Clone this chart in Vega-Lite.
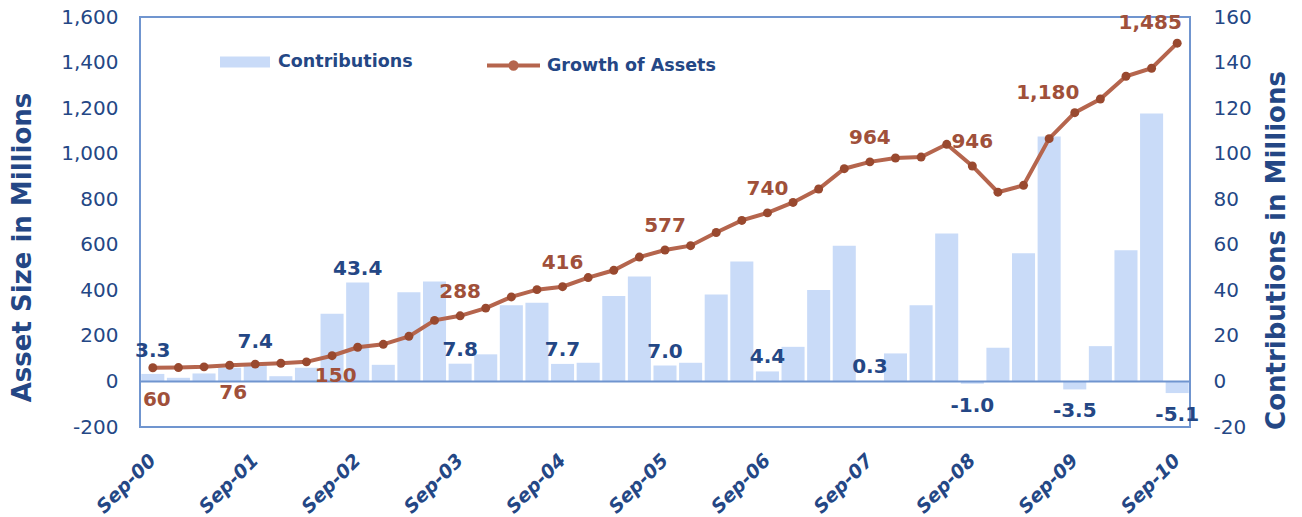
{
  "$schema": "https://vega.github.io/schema/vega-lite/v6.json",
  "width": 1050,
  "height": 410,
  "autosize": {"type": "none"},
  "padding": {"left": 140, "top": 17, "right": 112, "bottom": 90},
  "background": "white",
  "config": {
    "view": {"stroke": "#7095CF", "strokeWidth": 2},
    "font": "DejaVu Sans",
    "locale": {"number": {"decimal": ".", "thousands": ",", "grouping": [3], "currency": ["$", ""], "minus": "-"}}
  },
  "data": {"values": [
    {"t": "Sep-00", "c": 3.3, "a": 60},
    {"t": "Dec-00", "c": 1.6, "a": 61},
    {"t": "Mar-01", "c": 3.5, "a": 64},
    {"t": "Jun-01", "c": 6.0, "a": 71},
    {"t": "Sep-01", "c": 7.4, "a": 76},
    {"t": "Dec-01", "c": 2.3, "a": 80},
    {"t": "Mar-02", "c": 6.0, "a": 86},
    {"t": "Jun-02", "c": 29.7, "a": 113},
    {"t": "Sep-02", "c": 43.4, "a": 150},
    {"t": "Dec-02", "c": 7.3, "a": 163},
    {"t": "Mar-03", "c": 39.2, "a": 198},
    {"t": "Jun-03", "c": 43.9, "a": 268},
    {"t": "Sep-03", "c": 7.8, "a": 288},
    {"t": "Dec-03", "c": 11.9, "a": 322},
    {"t": "Mar-04", "c": 33.5, "a": 371},
    {"t": "Jun-04", "c": 34.6, "a": 403},
    {"t": "Sep-04", "c": 7.7, "a": 416},
    {"t": "Dec-04", "c": 8.2, "a": 456},
    {"t": "Mar-05", "c": 37.5, "a": 488},
    {"t": "Jun-05", "c": 46.1, "a": 546},
    {"t": "Sep-05", "c": 7.0, "a": 577},
    {"t": "Dec-05", "c": 8.2, "a": 596},
    {"t": "Mar-06", "c": 38.2, "a": 654},
    {"t": "Jun-06", "c": 52.7, "a": 707},
    {"t": "Sep-06", "c": 4.4, "a": 740},
    {"t": "Dec-06", "c": 15.2, "a": 786},
    {"t": "Mar-07", "c": 40.1, "a": 845},
    {"t": "Jun-07", "c": 59.6, "a": 934},
    {"t": "Sep-07", "c": 0.3, "a": 964},
    {"t": "Dec-07", "c": 12.3, "a": 981},
    {"t": "Mar-08", "c": 33.5, "a": 985},
    {"t": "Jun-08", "c": 65.0, "a": 1041},
    {"t": "Sep-08", "c": -1.0, "a": 946},
    {"t": "Dec-08", "c": 14.8, "a": 831},
    {"t": "Mar-09", "c": 56.3, "a": 861},
    {"t": "Jun-09", "c": 107.5, "a": 1066},
    {"t": "Sep-09", "c": -3.5, "a": 1180},
    {"t": "Dec-09", "c": 15.5, "a": 1240},
    {"t": "Mar-10", "c": 57.6, "a": 1340},
    {"t": "Jun-10", "c": 117.6, "a": 1375},
    {"t": "Sep-10", "c": -5.1, "a": 1485}
  ]},
  "layer": [
    {
      "layer": [
        {
          "mark": {"type": "bar"},
          "encoding": {
            "x": {"field": "t", "type": "ordinal", "sort": null, "scale": {"paddingInner": 0.1, "paddingOuter": 0.05},
              "axis": {"values": ["Sep-00","Sep-01","Sep-02","Sep-03","Sep-04","Sep-05","Sep-06","Sep-07","Sep-08","Sep-09","Sep-10"], "title": null, "labelAngle": -45, "labelAlign": "right", "labelBaseline": "middle", "labelFontSize": 19, "labelFontWeight": "bold", "labelFontStyle": "italic", "labelColor": "#244785", "labelPadding": 30, "domain": false, "ticks": false, "labelFont": "DejaVu Sans"}},
            "y": {"field": "c", "type": "quantitative", "scale": {"domain": [-20, 160], "nice": false, "zero": false},
              "axis": {"orient": "right", "values": [-20,0,20,40,60,80,100,120,140,160], "format": "d", "title": "Contributions in Millions", "titleAngle": 270, "titleFontSize": 26, "titleFontWeight": "bold", "titleColor": "#244785", "titlePadding": 38, "titleY": 233, "labelFontSize": 20, "labelColor": "#244785", "labelPadding": 23, "domain": false, "ticks": false, "grid": false, "labelFont": "DejaVu Sans", "titleFont": "DejaVu Sans"}},
            "fill": {"datum": "Contributions", "type": "nominal", "scale": {"range": ["#C9DBF8"]},
              "legend": {"orient": "none", "legendX": 80, "legendY": 20, "title": null, "symbolType": "M-1,-0.22H1V0.22H-1Z", "symbolSize": 2500, "symbolStrokeWidth": 0, "labelFontSize": 17.5, "labelFontWeight": "bold", "labelColor": "#244785", "labelFont": "DejaVu Sans", "labelOffset": 8, "labelLimit": 0}}
          }
        },
        {
          "data": {"values": [{}]},
          "mark": {"type": "rule", "color": "#7095CF", "strokeWidth": 2},
          "encoding": {"y": {"datum": 0, "type": "quantitative"}}
        },
        {
          "transform": [{"filter": "indexof(['Sep-00','Sep-01'], datum.t) >= 0"}],
          "mark": {"type": "text", "fontSize": 20, "fontWeight": "bold", "color": "#244785", "baseline": "alphabetic", "dy": -17, "font": "DejaVu Sans"},
          "encoding": {
            "x": {"field": "t", "type": "ordinal", "sort": null},
            "y": {"field": "c", "type": "quantitative"},
            "text": {"field": "c", "type": "quantitative", "format": ".1f"}
          }
        },
        {
          "transform": [{"filter": "indexof(datum.t,'Sep')===0 && datum.c>=0 && datum.t!=='Sep-00' && datum.t!=='Sep-01'"}],
          "mark": {"type": "text", "fontSize": 20, "fontWeight": "bold", "color": "#244785", "baseline": "alphabetic", "dy": -8, "font": "DejaVu Sans"},
          "encoding": {
            "x": {"field": "t", "type": "ordinal", "sort": null},
            "y": {"field": "c", "type": "quantitative"},
            "text": {"field": "c", "type": "quantitative", "format": ".1f"}
          }
        },
        {
          "transform": [{"filter": "indexof(datum.t,'Sep')===0 && datum.c<0"}],
          "mark": {"type": "text", "fontSize": 20, "fontWeight": "bold", "color": "#244785", "baseline": "top", "dy": 12, "font": "DejaVu Sans"},
          "encoding": {
            "x": {"field": "t", "type": "ordinal", "sort": null},
            "y": {"field": "c", "type": "quantitative"},
            "text": {"field": "c", "type": "quantitative", "format": ".1f"}
          }
        }
      ]
    },
    {
      "layer": [
        {
          "mark": {"type": "line", "strokeWidth": 4},
          "encoding": {
            "x": {"field": "t", "type": "ordinal", "sort": null},
            "y": {"field": "a", "type": "quantitative", "scale": {"domain": [-200, 1600], "nice": false, "zero": false},
              "axis": {"orient": "left", "values": [-200,0,200,400,600,800,1000,1200,1400,1600], "format": ",.0f", "title": "Asset Size in Millions", "titleFontSize": 26, "titleFontWeight": "bold", "titleColor": "#244785", "titlePadding": 25, "titleY": 230, "labelFontSize": 20, "labelColor": "#244785", "labelPadding": 22, "domain": false, "ticks": false, "grid": false, "labelFont": "DejaVu Sans", "titleFont": "DejaVu Sans"}},
            "stroke": {"datum": "Growth of Assets", "type": "nominal", "scale": {"range": ["#B5654D"]},
              "legend": {"orient": "none", "legendX": 345, "legendY": 20, "title": null, "symbolType": "M-1,0H1M0.12,0A0.12,0.12 0 1 1 -0.12,0A0.12,0.12 0 1 1 0.12,0Z", "symbolSize": 2809, "symbolStrokeWidth": 4, "symbolFillColor": "#99492F", "labelFontSize": 17.5, "labelFontWeight": "bold", "labelColor": "#244785", "labelFont": "DejaVu Sans", "labelOffset": 5, "labelLimit": 0}}
          }
        },
        {
          "mark": {"type": "point", "filled": true, "size": 80, "color": "#99492F", "opacity": 1},
          "encoding": {
            "x": {"field": "t", "type": "ordinal", "sort": null},
            "y": {"field": "a", "type": "quantitative"}
          }
        },
        {
          "transform": [{"filter": "indexof(['Sep-03','Sep-04','Sep-05','Sep-06','Sep-07','Sep-08'], datum.t) >= 0"}],
          "mark": {"type": "text", "fontSize": 20, "fontWeight": "bold", "color": "#A0503A", "baseline": "alphabetic", "dy": -18, "font": "DejaVu Sans"},
          "encoding": {
            "x": {"field": "t", "type": "ordinal", "sort": null},
            "y": {"field": "a", "type": "quantitative"},
            "text": {"field": "a", "type": "quantitative", "format": ",.0f"}
          }
        },
        {
          "transform": [{"filter": "indexof(['Sep-09','Sep-10'], datum.t) >= 0"}],
          "mark": {"type": "text", "fontSize": 20, "fontWeight": "bold", "color": "#A0503A", "baseline": "alphabetic", "dy": -14, "dx": -27, "font": "DejaVu Sans"},
          "encoding": {
            "x": {"field": "t", "type": "ordinal", "sort": null},
            "y": {"field": "a", "type": "quantitative"},
            "text": {"field": "a", "type": "quantitative", "format": ",.0f"}
          }
        },
        {
          "transform": [{"filter": "datum.t==='Sep-00'"}],
          "mark": {"type": "text", "fontSize": 20, "fontWeight": "bold", "color": "#A0503A", "baseline": "top", "dy": 22, "dx": 4, "font": "DejaVu Sans"},
          "encoding": {
            "x": {"field": "t", "type": "ordinal", "sort": null},
            "y": {"field": "a", "type": "quantitative"},
            "text": {"field": "a", "type": "quantitative", "format": ",.0f"}
          }
        },
        {
          "transform": [{"filter": "indexof(['Sep-01','Sep-02'], datum.t) >= 0"}],
          "mark": {"type": "text", "fontSize": 20, "fontWeight": "bold", "color": "#A0503A", "baseline": "top", "dy": 19, "dx": -22, "font": "DejaVu Sans"},
          "encoding": {
            "x": {"field": "t", "type": "ordinal", "sort": null},
            "y": {"field": "a", "type": "quantitative"},
            "text": {"field": "a", "type": "quantitative", "format": ",.0f"}
          }
        }
      ]
    }
  ],
  "resolve": {"scale": {"y": "independent"}}
}
